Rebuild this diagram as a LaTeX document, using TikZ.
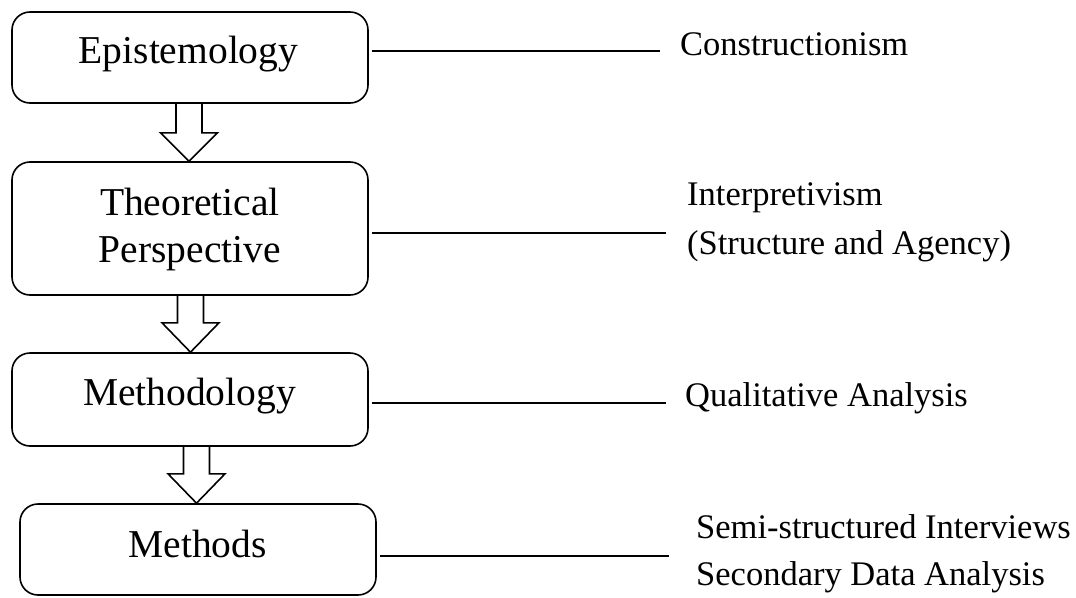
\documentclass[tikz,border=0pt]{standalone}
\usepackage{fontspec}
\setmainfont{Liberation Serif}
\usetikzlibrary{calc}
\newcommand\blockdown[4]{%
  \draw[blockarrow] let \p1=(#1.south), \p2=(#2.north) in
    ({#3pt-13pt},\y1) -- ({#3pt-13pt},{\y1-#4pt}) -- ({#3pt-28.5pt},{\y1-#4pt})
    -- ({#3pt},\y2) -- ({#3pt+28.5pt},{\y1-#4pt}) -- ({#3pt+13pt},{\y1-#4pt})
    -- ({#3pt+13pt},\y1);}
\begin{document}
\begin{tikzpicture}[x=1pt,y=-1pt,
  box/.style={draw, line width=1.6pt, rounded corners=18pt, minimum width=356pt, inner sep=0pt},
  boxtext/.style={font=\fontsize{39.5}{47}\selectfont, anchor=base, inner sep=0pt},
  sidetext/.style={font=\fontsize{34.5}{47}\selectfont, anchor=base west, inner sep=0pt},
  link/.style={line width=1.3pt},
  blockarrow/.style={line width=1.6pt, line join=miter}]
\useasboundingbox (0,0) rectangle (1076,597);
% boxes
\node[box, minimum height=91pt] (epi) at (190,57.5) {};
\node[box, minimum height=133pt] (theo) at (190,228.5) {};
\node[box, minimum height=93pt] (meth) at (190,399.5) {};
\node[box, minimum height=91pt] (mtd) at (198,549.5) {};
% box texts
\node[boxtext] (epiT) at (188.5,63) {Epistemology};
\node[boxtext] (theoT1) at (190,215) {Theoretical};
\node[boxtext] (theoT2) at (190,262) {Perspective};
\node[boxtext] (methT) at (189.5,405) {Methodology};
\node[boxtext] (mtdT) at (197.5,557) {Methods};
% block arrows
\blockdown{epi}{theo}{189}{29}
\blockdown{theo}{meth}{190.5}{27}
\blockdown{meth}{mtd}{196.5}{27}
% side texts
\node[sidetext] (cons) at (680,55) {Constructionism};
\node[sidetext] (interp) at (687,205) {Interpretivism};
\node[sidetext] (struct) at (687,254) {(Structure and Agency)};
\node[sidetext] (qual) at (685,406) {Qualitative Analysis};
\node[sidetext] (semi) at (696,538) {Semi-structured Interviews};
\node[sidetext] (sec) at (696,585) {Secondary Data Analysis};
% connectors
\draw[link] ($(epi.east)+(3,-6.5)$) -- ++(288,0) coordinate (c1);
\draw[link] ($(theo.east)+(3,4.5)$) -- ++(294,0) coordinate (c2);
\draw[link] ($(meth.east)+(3,3.5)$) -- ++(294,0) coordinate (c3);
\draw[link] ($(mtd.east)+(3,6.5)$) -- ++(289,0) coordinate (c4);
\end{tikzpicture}
\end{document}
